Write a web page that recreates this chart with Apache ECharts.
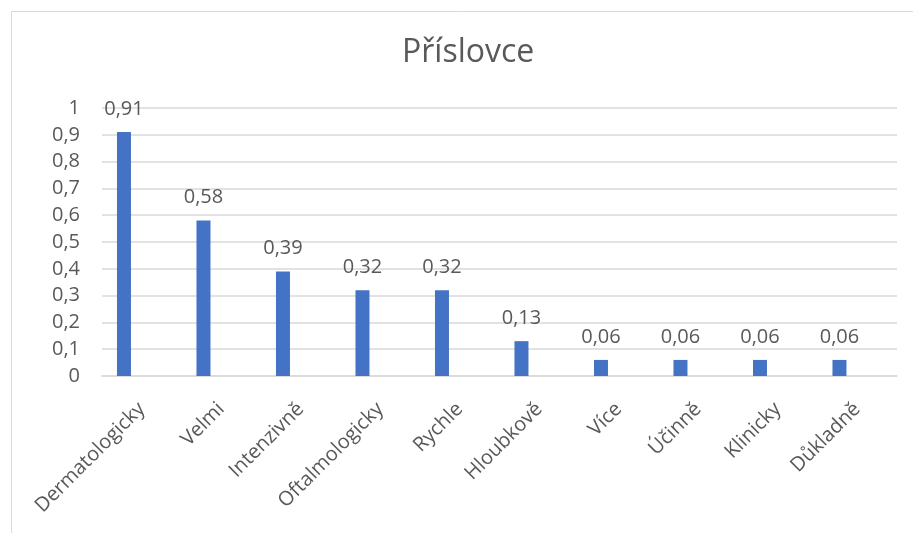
<!DOCTYPE html>
<html>
<head>
<meta charset="utf-8">
<script src="https://cdn.jsdelivr.net/npm/echarts@6/dist/echarts.min.js"></script>
<style>html,body{margin:0;padding:0;background:#fff;}#c{width:913px;height:533px;}</style>
</head>
<body>
<div id="c"></div>
<script>
const title = 'Příslovce';
const categories = ['Dermatologicky','Velmi','Intenzivně','Oftalmologicky','Rychle','Hloubkově','Více','Účinně','Klinicky','Důkladně'];
const values = [0.91,0.58,0.39,0.32,0.32,0.13,0.06,0.06,0.06,0.06];
const emptySeries = [];

const fmt = v => String(+(+v).toFixed(2)).replace('.', ',');
const font = '"Open Sans", sans-serif';
const txt = '#595959';

const chart = echarts.init(document.getElementById('c'));
chart.setOption({
  animation: false,
  backgroundColor: '#fff',
  title: {
    text: title, left: 397, top: 32,
    textStyle: { fontFamily: font, fontSize: 32, fontWeight: 'normal', color: txt }
  },
  graphic: [{
    type: 'rect', left: 9, top: 9,
    shape: { x: 0, y: 0, width: 1000, height: 1000 },
    style: { fill: 'none', stroke: '#d9d9d9', lineWidth: 1 }
  }],
  grid: { left: 102, right: 16, top: 108, bottom: 157, containLabel: false },
  xAxis: {
    type: 'category', data: categories,
    axisLine: { lineStyle: { color: '#d9d9d9', width: 1.5 } },
    axisTick: { show: false },
    axisLabel: { rotate: 45, margin: 30, interval: 0, fontFamily: font, fontSize: 20, color: txt }
  },
  yAxis: {
    type: 'value', min: 0, max: 1, interval: 0.1,
    axisLine: { show: false }, axisTick: { show: false },
    splitLine: { lineStyle: { color: '#d9d9d9', width: 1.5 } },
    axisLabel: { margin: 22, fontFamily: font, fontSize: 20, color: txt, formatter: fmt }
  },
  series: [{
    type: 'bar', data: values, barWidth: 14, barGap: '154%',
    itemStyle: { color: '#4472C4' },
    label: { show: true, position: 'top', distance: 13, fontFamily: font, fontSize: 20, color: txt, formatter: p => fmt(p.value) }
  }, {
    type: 'bar', data: emptySeries, barWidth: 14,
    itemStyle: { color: '#ED7D31' }
  }]
});
</script>
</body>
</html>
